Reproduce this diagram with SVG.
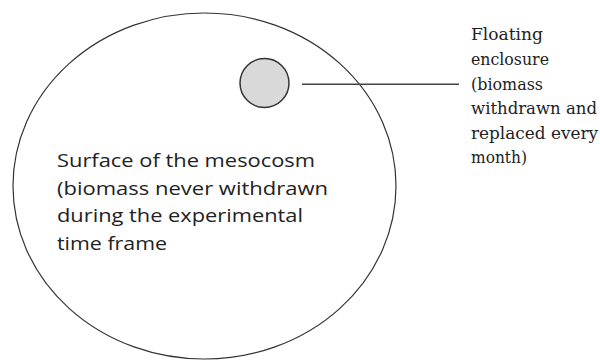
<svg xmlns="http://www.w3.org/2000/svg" width="600" height="362" viewBox="0 0 600 362">
<style>
.outline{fill:none;stroke:#333;stroke-width:1.2}
.encl{fill:#d9d9d9;stroke:#333;stroke-width:1.5}
.conn{stroke:#444;stroke-width:1.5;fill:none}
.sans{font-family:"Open Sans","Liberation Sans",sans-serif;font-size:18px;fill:#222}
.serif{font-family:"DejaVu Serif","Liberation Serif",serif;font-size:16px;fill:#222}
</style>
<rect width="600" height="362" fill="#fff"/>
<g id="mesocosm">
<ellipse class="outline" cx="204.5" cy="186" rx="191.5" ry="173"/>
<text class="sans" x="57" y="167" textLength="258" lengthAdjust="spacingAndGlyphs">Surface of the mesocosm</text>
<text class="sans" x="57" y="194.5" textLength="271" lengthAdjust="spacingAndGlyphs">(biomass never withdrawn</text>
<text class="sans" x="57" y="222" textLength="246" lengthAdjust="spacingAndGlyphs">during the experimental</text>
<text class="sans" x="57" y="249.5" textLength="110" lengthAdjust="spacingAndGlyphs">time frame</text>
</g>
<g id="enclosure">
<circle class="encl" cx="264.5" cy="83" r="24.5"/>
</g>
<g id="connectors">
<line class="conn" x1="302" y1="84.3" x2="459" y2="84.3"/>
</g>
<g id="enclosure-label">
<text class="serif" x="471" y="40" textLength="72" lengthAdjust="spacingAndGlyphs">Floating</text>
<text class="serif" x="471" y="65" textLength="78" lengthAdjust="spacingAndGlyphs">enclosure</text>
<text class="serif" x="471" y="89.5" textLength="72" lengthAdjust="spacingAndGlyphs">(biomass</text>
<text class="serif" x="471" y="114" textLength="126" lengthAdjust="spacingAndGlyphs">withdrawn and</text>
<text class="serif" x="471" y="138.5" textLength="127" lengthAdjust="spacingAndGlyphs">replaced every</text>
<text class="serif" x="471" y="163" textLength="56" lengthAdjust="spacingAndGlyphs">month)</text>
</g>
</svg>
